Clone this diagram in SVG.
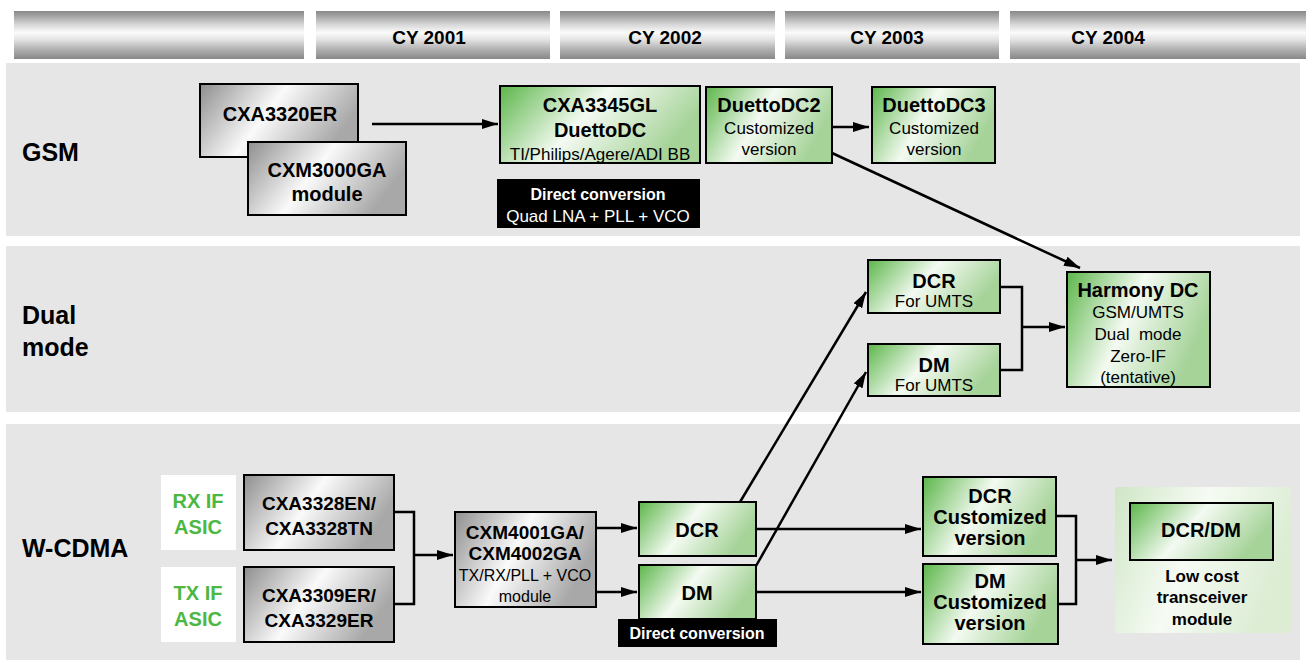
<svg xmlns="http://www.w3.org/2000/svg" width="1306" height="660" viewBox="0 0 1306 660">
<defs>
<linearGradient id="bar" x1="0" y1="0" x2="0" y2="1">
<stop offset="0" stop-color="#888"/>
<stop offset="0.12" stop-color="#a8a8a8"/>
<stop offset="0.28" stop-color="#d6d6d6"/>
<stop offset="0.45" stop-color="#fbfbfb"/>
<stop offset="0.6" stop-color="#e2e2e2"/>
<stop offset="0.8" stop-color="#b0b0b0"/>
<stop offset="1" stop-color="#888"/>
</linearGradient>
<linearGradient id="green" x1="0" y1="0" x2="1" y2="0.35">
<stop offset="0" stop-color="#5cb64a"/>
<stop offset="0.5" stop-color="#f4faf2"/>
<stop offset="1" stop-color="#a5d398"/>
</linearGradient>
<linearGradient id="silver" x1="0" y1="0" x2="1" y2="0.35">
<stop offset="0" stop-color="#8e8e8e"/>
<stop offset="0.5" stop-color="#fafafa"/>
<stop offset="1" stop-color="#a8a8a8"/>
</linearGradient>
<linearGradient id="pale" x1="0" y1="0" x2="1" y2="0.3">
<stop offset="0" stop-color="#cfe6c6"/>
<stop offset="0.5" stop-color="#f6fbf4"/>
<stop offset="1" stop-color="#dcedd4"/>
</linearGradient>
<marker id="ah" viewBox="0 0 16 10" refX="16" refY="5" markerWidth="6.4" markerHeight="4" orient="auto" markerUnits="strokeWidth">
<path d="M0,0 L16,5 L0,10 z" fill="#000"/>
</marker>
</defs>
<style>
text{font-family:"Liberation Sans",Arial,sans-serif;text-anchor:middle;fill:#000}
.b{font-weight:bold;font-size:20px}
.b19{font-weight:bold;font-size:19px}
.n{font-size:17px}
.hd{font-weight:bold;font-size:19px}
.lbl{font-weight:bold;font-size:25px;text-anchor:start}
.g{fill:url(#green);stroke:#000;stroke-width:2}
.s{fill:url(#silver);stroke:#000;stroke-width:2}
.panel{fill:#e6e6e6}
.wt{fill:#fff}
.gt{fill:#4cb843;font-weight:bold;font-size:20px}
.c{fill:none;stroke:#000;stroke-width:2.5}
.ca{fill:none;stroke:#000;stroke-width:2.5;marker-end:url(#ah)}
</style>
<rect width="1306" height="660" fill="#fff"/>
<g id="header">
<rect x="14" y="11" width="290" height="48" fill="url(#bar)"/>
<rect x="316" y="11" width="234" height="48" fill="url(#bar)"/>
<rect x="560" y="11" width="215" height="48" fill="url(#bar)"/>
<rect x="785" y="11" width="214" height="48" fill="url(#bar)"/>
<rect x="1010" y="11" width="296" height="48" fill="url(#bar)"/>
<text class="hd" x="429" y="44">CY 2001</text>
<text class="hd" x="665" y="44">CY 2002</text>
<text class="hd" x="887" y="44">CY 2003</text>
<text class="hd" x="1108" y="44">CY 2004</text>
</g>
<g id="panels">
<rect class="panel" x="6" y="63" width="1294" height="173"/>
<rect class="panel" x="6" y="246" width="1294" height="166"/>
<rect class="panel" x="6" y="424" width="1294" height="236"/>
<text class="lbl" x="22" y="161">GSM</text>
<text class="lbl" x="22" y="324">Dual</text>
<text class="lbl" x="22" y="356">mode</text>
<text class="lbl" x="22" y="557">W-CDMA</text>
</g>
<g id="connectors">
<line class="ca" x1="372" y1="124" x2="498" y2="124"/>
<line class="ca" x1="832" y1="127" x2="869" y2="127"/>
<line class="ca" x1="832" y1="153" x2="1080" y2="268"/>
<polyline class="c" points="1000,287 1022,287 1022,370 1000,370"/>
<line class="ca" x1="1022" y1="327" x2="1065" y2="327"/>
<polyline class="c" points="394,512 414,512 414,604 394,604"/>
<line class="ca" x1="414" y1="555" x2="453" y2="555"/>
<line class="ca" x1="596" y1="528" x2="637" y2="528"/>
<line class="ca" x1="596" y1="592" x2="637" y2="592"/>
<line class="ca" x1="740" y1="502" x2="866" y2="292"/>
<line class="ca" x1="756" y1="566" x2="866" y2="372"/>
<line class="ca" x1="756" y1="529" x2="921" y2="529"/>
<line class="ca" x1="756" y1="592" x2="921" y2="592"/>
<polyline class="c" points="1056,516 1076,516 1076,604 1058,604"/>
<line class="ca" x1="1076" y1="560" x2="1112" y2="560"/>
</g>
<g id="n-cxa3320er">
<rect class="s" x="200" y="84" width="158" height="73"/>
<text class="b" x="280" y="121">CXA3320ER</text>
</g>
<g id="n-cxm3000ga">
<rect class="s" x="248" y="142" width="158" height="73"/>
<text class="b" x="327" y="177">CXM3000GA</text>
<text class="b" x="327" y="201">module</text>
</g>
<g id="n-cxa3345gl">
<rect class="g" x="500" y="86" width="200" height="77"/>
<text class="b" x="600" y="112">CXA3345GL</text>
<text class="b" x="600" y="137">DuettoDC</text>
<text class="n" x="600" y="160">TI/Philips/Agere/ADI BB</text>
</g>
<g id="n-dc-gsm">
<rect x="497" y="179" width="203" height="49" fill="#000"/>
<text x="598" y="200" style="fill:#fff;font-weight:bold;font-size:16px">Direct conversion</text>
<text x="598" y="222" style="fill:#fff;font-size:17px">Quad LNA + PLL + VCO</text>
</g>
<g id="n-duettodc2">
<rect class="g" x="706" y="87" width="126" height="76"/>
<text class="b" x="769" y="112">DuettoDC2</text>
<text class="n" x="769" y="134">Customized</text>
<text class="n" x="769" y="155">version</text>
</g>
<g id="n-duettodc3">
<rect class="g" x="872" y="87" width="123" height="76"/>
<text class="b" x="934" y="112">DuettoDC3</text>
<text class="n" x="934" y="134">Customized</text>
<text class="n" x="934" y="155">version</text>
</g>
<g id="n-dcr-umts">
<rect class="g" x="868" y="260" width="132" height="53"/>
<text class="b" x="934" y="288">DCR</text>
<text class="n" x="934" y="307">For UMTS</text>
</g>
<g id="n-dm-umts">
<rect class="g" x="868" y="344" width="132" height="52"/>
<text class="b" x="934" y="372">DM</text>
<text class="n" x="934" y="391">For UMTS</text>
</g>
<g id="n-harmony">
<rect class="g" x="1067" y="272" width="143" height="115"/>
<text class="b" x="1138" y="297">Harmony DC</text>
<text class="n" x="1138" y="318">GSM/UMTS</text>
<text class="n" x="1138" y="340" xml:space="preserve">Dual  mode</text>
<text class="n" x="1138" y="362">Zero-IF</text>
<text class="n" x="1138" y="383">(tentative)</text>
</g>
<g id="n-rxif">
<rect class="wt" x="161" y="475" width="75" height="75"/>
<text class="gt" x="198" y="508">RX IF</text>
<text class="gt" x="198" y="534">ASIC</text>
</g>
<g id="n-txif">
<rect class="wt" x="161" y="567" width="75" height="75"/>
<text class="gt" x="198" y="600">TX IF</text>
<text class="gt" x="198" y="626">ASIC</text>
</g>
<g id="n-cxa3328">
<rect class="s" x="244" y="475" width="150" height="75"/>
<text class="b19" x="319" y="510">CXA3328EN/</text>
<text class="b19" x="319" y="535">CXA3328TN</text>
</g>
<g id="n-cxa3309">
<rect class="s" x="244" y="567" width="150" height="75"/>
<text class="b19" x="319" y="602">CXA3309ER/</text>
<text class="b19" x="319" y="627">CXA3329ER</text>
</g>
<g id="n-cxm4001">
<rect class="s" x="455" y="512" width="141" height="95"/>
<text class="b19" x="525" y="539">CXM4001GA/</text>
<text class="b19" x="525" y="560">CXM4002GA</text>
<text x="525" y="581" style="font-size:16px">TX/RX/PLL + VCO</text>
<text x="525" y="602" style="font-size:16px">module</text>
</g>
<g id="n-dcr">
<rect class="g" x="639" y="502" width="117" height="54"/>
<text class="b" x="697" y="537">DCR</text>
</g>
<g id="n-dm">
<rect class="g" x="639" y="565" width="117" height="54"/>
<text class="b" x="697" y="600">DM</text>
</g>
<g id="n-dc-wcdma">
<rect x="618" y="619" width="159" height="28" fill="#000"/>
<text x="697" y="639" style="fill:#fff;font-weight:bold;font-size:16px">Direct conversion</text>
</g>
<g id="n-dcr-cust">
<rect class="g" x="923" y="477" width="133" height="79"/>
<text class="b" x="990" y="503">DCR</text>
<text class="b" x="990" y="524">Customized</text>
<text class="b" x="990" y="545">version</text>
</g>
<g id="n-dm-cust">
<rect class="g" x="923" y="564" width="135" height="80"/>
<text class="b" x="990" y="588">DM</text>
<text class="b" x="990" y="609">Customized</text>
<text class="b" x="990" y="630">version</text>
</g>
<g id="n-lowcost">
<rect x="1115" y="487" width="176" height="146" rx="3" fill="url(#pale)"/>
<rect class="g" x="1130" y="503" width="143" height="57"/>
<text class="b" x="1201" y="537">DCR/DM</text>
<text x="1202" y="582" style="font-weight:bold;font-size:17px">Low cost</text>
<text x="1202" y="603" style="font-weight:bold;font-size:17px">transceiver</text>
<text x="1202" y="625" style="font-weight:bold;font-size:17px">module</text>
</g>
</svg>
